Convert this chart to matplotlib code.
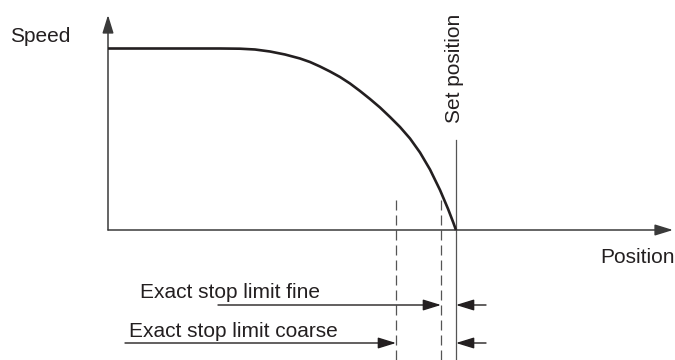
import matplotlib
matplotlib.use("Agg")
import matplotlib.pyplot as plt

# ---- data (position units, speed units; origin at axis corner) ----
curve_pos = [0, 112, 132, 147, 162, 177, 192, 202, 212, 222, 232, 242, 252, 262,
             272, 282, 292, 302, 312, 322, 332, 340, 345, 348]
curve_speed = [181.5, 181.5, 181.3, 180.5, 178.5, 175.5, 171.5, 168, 163.5, 158.5,
               153, 146.5, 139, 131, 122.5, 113, 103, 91.5, 77.5, 60.5, 40, 21.2, 8.2, 0]
set_position = 348
fine_limit = 333
coarse_limit = 288
axis_x_end = 567
axis_y_end = 215
fine_row = -75
coarse_row = -113
fine_start = 110
coarse_start = 17
right_start = 378

labels = {
    "speed": "Speed",
    "position": "Position",
    "set": "Set position",
    "fine": "Exact stop limit fine",
    "coarse": "Exact stop limit coarse",
}

plt.rcParams['font.family'] = ['Liberation Sans', 'DejaVu Sans']

fig = plt.figure(figsize=(6.75, 3.6), dpi=100)
ax = fig.add_axes([0, 0, 1, 1])
ax.set_xlim(-108, 567)
ax.set_ylim(-130, 230)
ax.axis('off')

dark = '#231f20'
gray = '#555555'

def arrow(start, tip, lw=1.0, color=dark):
    ax.annotate('', xy=tip, xytext=start,
                arrowprops=dict(arrowstyle='-|>,head_length=1.1,head_width=0.34',
                                mutation_scale=10, lw=lw, color=color,
                                shrinkA=0, shrinkB=0))

# axes
arrow((0, 0), (axis_x_end - 2, 0), lw=1.1, color='#3a3a3a')
arrow((0, 0), (0, axis_y_end), lw=1.1, color='#3a3a3a')

# speed curve
ax.plot(curve_pos, curve_speed, color=dark, lw=1.9, solid_capstyle='butt',
        solid_joinstyle='round', zorder=5)

# set position line
ax.plot([set_position, set_position], [-130, 90], color=gray, lw=0.9)

# dashed limit lines
for p in (fine_limit, coarse_limit):
    ax.plot([p, p], [-130, 33], color=gray, lw=0.9, dashes=(8, 4))

# limit arrows
arrow((fine_start, fine_row), (fine_limit, fine_row))
arrow((right_start, fine_row), (set_position, fine_row))
arrow((coarse_start, coarse_row), (coarse_limit, coarse_row))
arrow((right_start, coarse_row), (set_position, coarse_row))

fs = 15
tc = '#231f20'
ax.text(-98, 188, labels["speed"], fontsize=fs, color=tc, ha='left', va='baseline')
ax.text(567, -33, labels["position"], fontsize=fs, color=tc, ha='right', va='baseline')
ax.text(set_position - 1, 107, labels["set"], fontsize=fs, color=tc, rotation=90,
        ha='center', va='bottom')
ax.text(32, -68, labels["fine"], fontsize=fs, color=tc, ha='left', va='baseline')
ax.text(21, -107, labels["coarse"], fontsize=fs, color=tc, ha='left', va='baseline')

fig.savefig('out.png', dpi=100)
